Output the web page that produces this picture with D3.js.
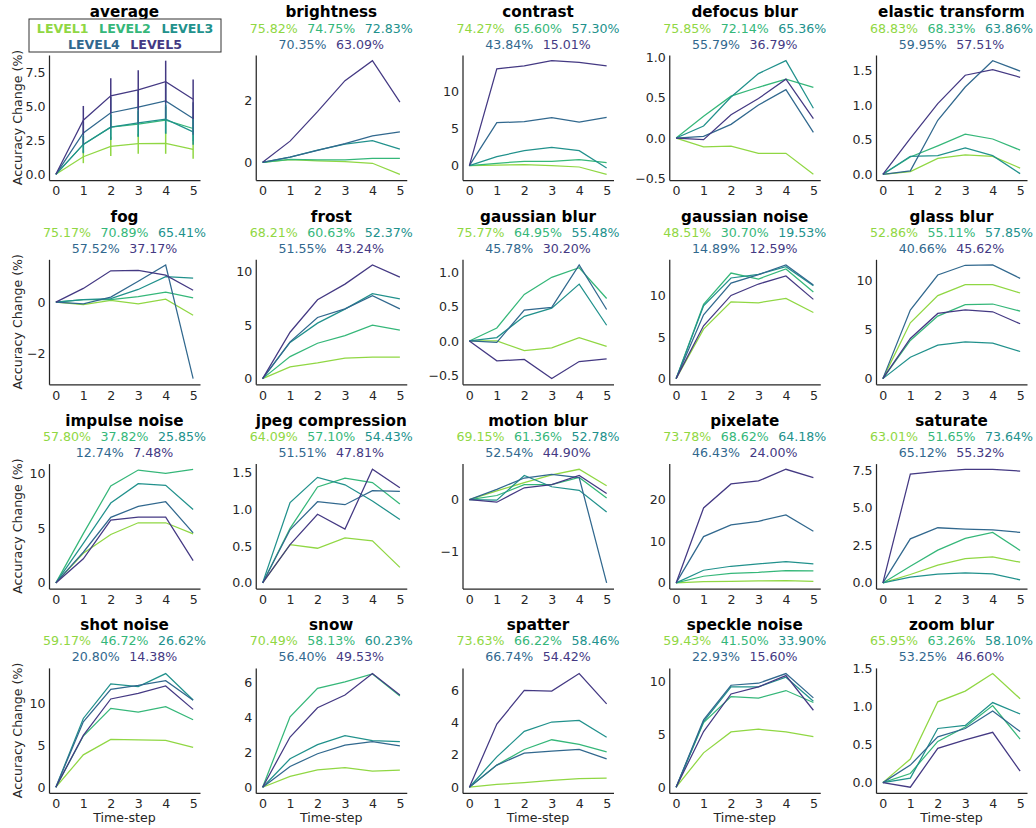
<!DOCTYPE html>
<html><head><meta charset="utf-8">
<script src="https://cdn.jsdelivr.net/npm/d3@7/dist/d3.min.js"></script>
<style>body{margin:0;background:#fff;} text{font-family:"DejaVu Sans",sans-serif;}</style>
</head><body>
<script>
// ---------------- DATA ----------------
const levels = ["LEVEL1","LEVEL2","LEVEL3","LEVEL4","LEVEL5"];
const timeSteps = [0,1,2,3,4,5];
const panelTitles = ["average","brightness","contrast","defocus blur","elastic transform",
  "fog","frost","gaussian blur","gaussian noise","glass blur",
  "impulse noise","jpeg compression","motion blur","pixelate","saturate",
  "shot noise","snow","spatter","speckle noise","zoom blur"];
const baseAccuracy = [null,
  ["75.82%","74.75%","72.83%","70.35%","63.09%"],
  ["74.27%","65.60%","57.30%","43.84%","15.01%"],
  ["75.85%","72.14%","65.36%","55.79%","36.79%"],
  ["68.83%","68.33%","63.86%","59.95%","57.51%"],
  ["75.17%","70.89%","65.41%","57.52%","37.17%"],
  ["68.21%","60.63%","52.37%","51.55%","43.24%"],
  ["75.77%","64.95%","55.48%","45.78%","30.20%"],
  ["48.51%","30.70%","19.53%","14.89%","12.59%"],
  ["52.86%","55.11%","57.85%","40.66%","45.62%"],
  ["57.80%","37.82%","25.85%","12.74%","7.48%"],
  ["64.09%","57.10%","54.43%","51.51%","47.81%"],
  ["69.15%","61.36%","52.78%","52.54%","44.90%"],
  ["73.78%","68.62%","64.18%","46.43%","24.00%"],
  ["63.01%","51.65%","73.64%","65.12%","55.32%"],
  ["59.17%","46.72%","26.62%","20.80%","14.38%"],
  ["70.49%","58.13%","60.23%","56.40%","49.53%"],
  ["73.63%","66.22%","58.46%","66.74%","54.42%"],
  ["59.43%","41.50%","33.90%","22.93%","15.60%"],
  ["65.95%","63.26%","58.10%","53.25%","46.60%"]];

// each: 5 series (LEVEL1..LEVEL5) of accuracy change at time-steps 0..5
const average = [[0,1.29,2.05,2.25,2.28,1.83],[0,2.2,3.47,3.69,3.98,3.37],[0,2.2,3.47,3.79,4.06,3.12],[0,3.04,4.53,4.95,5.40,4.11],[0,3.98,5.77,6.21,6.81,5.52]];
const averageStd = [[0,0.47,0.71,0.74,0.77,0.69],[0,0.6,0.9,0.95,1.0,0.9],[0,0.65,0.95,1.0,1.05,0.95],[0,0.85,1.15,1.25,1.3,1.2],[0,1.05,1.3,1.45,1.55,1.45]];
const brightness = [[0,0.09,0.05,0.02,-0.03,-0.39],[0,0.10,0.08,0.08,0.13,0.13],[0,0.17,0.40,0.59,0.71,0.43],[0,0.17,0.39,0.61,0.86,0.99],[0,0.69,1.65,2.66,3.31,1.96]];
const contrast = [[0,0.09,0.14,0,-0.18,-1.17],[0,0.32,0.59,0.59,0.81,0.41],[0,1.22,2.03,2.48,2.03,-0.32],[0,5.81,5.95,6.49,5.9,6.53],[0,13.1,13.5,14.2,13.96,13.5]];
const defocusBlur = [[0,-0.11,-0.10,-0.19,-0.19,-0.45],[0,0.27,0.52,0.63,0.73,0.63],[0,0.15,0.51,0.80,0.96,0.37],[0,0.02,0.17,0.41,0.60,0.07],[0,-0.02,0.29,0.49,0.73,0.24]];
const elasticTransform = [[0,0.04,0.23,0.28,0.26,0.09],[0,0.25,0.41,0.58,0.51,0.35],[0,0.26,0.27,0.38,0.27,0.01],[0,0.05,0.78,1.26,1.64,1.49],[0,0.52,1.02,1.43,1.51,1.40]];
const fog = [[0,-0.1,0.07,-0.07,0.12,-0.51],[0,0.1,0.1,0.22,0.39,0.17],[0,0.1,0.14,0.5,1.0,0.94],[0,-0.07,0.2,0.82,1.46,-3.0],[0,0.54,1.23,1.25,1.06,0.47]];
const frost = [[0,1.09,1.47,1.91,2.0,2.0],[0,2.06,3.31,4.03,5.0,4.53],[0,3.38,5.19,6.5,7.94,7.47],[0,3.44,5.72,6.53,7.75,6.53],[0,4.34,7.38,8.84,10.63,9.5]];
const gaussianBlur = [[0,0.0,-0.14,-0.10,0.05,-0.08],[0,0.19,0.68,0.93,1.07,0.62],[0,0.05,0.36,0.48,0.83,0.23],[0,-0.02,0.45,0.49,1.11,0.46],[0,-0.29,-0.27,-0.55,-0.30,-0.26]];
const gaussianNoise = [[0,5.97,9.27,9.15,9.68,7.98],[0,8.95,12.74,12.02,13.23,10.44],[0,8.79,12.14,12.58,13.51,11.21],[0,7.7,11.53,12.54,13.71,11.29],[0,6.37,10.04,11.41,12.38,9.56]];
const glassBlur = [[0,5.68,8.44,9.56,9.56,8.71],[0,3.88,6.36,7.52,7.59,6.87],[0,2.18,3.4,3.74,3.6,2.76],[0,6.97,10.54,11.53,11.56,10.2],[0,4.08,6.63,7.0,6.8,5.58]];
const impulseNoise = [[0,2.7,4.42,5.49,5.49,4.48],[0,4.5,8.84,10.3,10.0,10.37],[0,3.6,7.29,9.05,8.9,6.7],[0,2.8,5.98,6.98,7.41,4.57],[0,2.2,5.73,6.0,6.0,2.04]];
const jpegCompression = [[0,0.52,0.47,0.61,0.57,0.21],[0,0.74,1.30,1.42,1.36,1.07],[0,1.09,1.43,1.33,1.11,0.86],[0,0.72,1.10,1.06,1.25,1.24],[0,0.52,0.93,0.73,1.54,1.29]];
const motionBlur = [[0,0.17,0.33,0.48,0.59,0.27],[0,0.08,0.29,0.29,0.43,0.03],[0,-0.01,0.47,0.25,0.18,-0.24],[0,0.2,0.42,0.49,0.43,-1.62],[0,-0.05,0.23,0.29,0.47,0.12]];
const pixelate = [[0,0.32,0.4,0.48,0.56,0.4],[0,1.6,2.32,2.56,2.96,2.88],[0,3.04,4.0,4.56,5.12,4.56],[0,11.12,13.92,14.8,16.32,12.4],[0,18.0,23.76,24.48,27.28,25.28]];
const saturate = [[0,0.56,1.18,1.62,1.73,1.38],[0,1.11,2.18,2.96,3.36,2.16],[0,0.38,0.58,0.67,0.6,0.2],[0,2.93,3.67,3.58,3.53,3.36],[0,7.24,7.42,7.56,7.56,7.44]];
const shotNoise = [[0,3.86,5.7,5.66,5.58,4.74],[0,6.1,9.4,8.96,9.6,8.05],[0,8.2,12.31,11.99,13.55,10.4],[0,7.8,11.67,12.15,12.71,10.36],[0,6.18,10.52,11.2,12.07,9.28]];
const snow = [[0,0.62,1.0,1.13,0.92,0.98],[0,4.04,5.67,6.04,6.5,5.23],[0,1.63,2.44,2.96,2.67,2.62],[0,1.19,1.92,2.42,2.62,2.37],[0,2.88,4.56,5.29,6.52,5.29]];
const spatter = [[0,0.17,0.29,0.43,0.54,0.56],[0,1.37,2.34,2.94,2.65,2.19],[0,1.88,3.46,4.04,4.14,3.1],[0,1.37,2.11,2.24,2.34,1.76],[0,3.91,6.0,5.96,7.04,5.16]];
const speckleNoise = [[0,3.24,5.22,5.47,5.22,4.78],[0,6.1,8.55,8.4,9.12,7.99],[0,6.19,9.47,9.47,10.38,8.11],[0,6.35,9.62,9.81,10.72,8.43],[0,5.25,8.8,9.47,10.53,7.26]];
const zoomBlur = [[0,0.31,1.06,1.20,1.43,1.10],[0,0.12,0.54,0.73,1.01,0.57],[0,0.06,0.71,0.75,1.05,0.9],[0,0.23,0.6,0.71,0.94,0.67],[0,-0.06,0.45,0.56,0.66,0.15]];

const yTicks = [[0,2.5,5,7.5],[0,2],[0,5,10],[-0.5,0,0.5,1],[0,0.5,1,1.5],
  [-2,0],[0,5,10],[-0.5,0,0.5,1],[0,5,10],[0,5,10],
  [0,5,10],[0,0.5,1,1.5],[-1,0],[0,10,20],[0,2.5,5,7.5],
  [0,5,10],[0,2,4,6],[0,2,4,6],[0,5,10],[0,0.5,1,1.5]];

const panelData = [average,brightness,contrast,defocusBlur,elasticTransform,fog,frost,gaussianBlur,gaussianNoise,glassBlur,
  impulseNoise,jpegCompression,motionBlur,pixelate,saturate,shotNoise,snow,spatter,speckleNoise,zoomBlur];

// ---------------- DRAW ----------------
const colors = [5/6,4/6,3/6,2/6,1/6].map(t => d3.interpolateViridis(t));
const W = 1036, H = 828;
const svg = d3.select("body").append("svg").attr("width", W).attr("height", H);
const axW = 151, axH = 125;
const ink = "#262626";
const fs = "12.6px";

panelData.forEach((data, i) => {
  const r = Math.floor(i / 5), c = i % 5;
  const left = 49 + c * 206.75, top = 55 + r * 204.3;
  const g = svg.append("g").attr("transform", `translate(${left},${top})`);
  const x = d3.scaleLinear().domain([-0.25, 5.25]).range([0, axW]);
  let vals = [];
  data.forEach((s, li) => s.forEach((v, k) => {
    if (i === 0) { vals.push(v + averageStd[li][k], v - averageStd[li][k]); } else vals.push(v);
  }));
  const [mn, mx] = d3.extent(vals);
  const pad = (mx - mn) * 0.05;
  const y = d3.scaleLinear().domain([mn - pad, mx + pad]).range([axH, 0]);

  const ticks = yTicks[i];
  const dec = ticks.some(t => !Number.isInteger(t));
  const fmt = dec ? d3.format(".1f") : d3.format("d");

  const ya = g.append("g").call(d3.axisLeft(y).tickValues(ticks).tickFormat(fmt).tickSize(0).tickSizeOuter(0).tickPadding(3.5));
  const xa = g.append("g").attr("transform", `translate(0,${axH})`)
    .call(d3.axisBottom(x).tickValues(timeSteps).tickFormat(d3.format("d")).tickSize(0).tickSizeOuter(0).tickPadding(6.5));
  [ya, xa].forEach(a => {
    a.selectAll("path").attr("stroke", ink).attr("stroke-width", 1.25);
    a.selectAll("line").remove();
    a.selectAll("text").attr("fill", ink).style("font-size", fs).style("font-family", "DejaVu Sans");
  });

  const line = d3.line().x((d, k) => x(timeSteps[k])).y(d => y(d));
  data.forEach((s, li) => {
    if (i === 0) {
      s.forEach((v, k) => {
        const e = averageStd[li][k];
        if (e > 0) g.append("line").attr("x1", x(timeSteps[k])).attr("x2", x(timeSteps[k]))
          .attr("y1", y(v - e)).attr("y2", y(v + e)).attr("stroke", colors[li]).attr("stroke-width", 1.5);
      });
    }
    g.append("path").datum(s).attr("d", line).attr("fill", "none")
      .attr("stroke", colors[li]).attr("stroke-width", 1.25);
  });

  // title
  g.append("text").attr("x", axW / 2).attr("y", -43).attr("dy", "0.36em").attr("text-anchor", "middle")
    .style("font-size", "15.2px").style("font-weight", "bold").attr("fill", "#000").text(panelTitles[i]);

  if (i === 0) {
    // legend
    g.append("rect").attr("x", 29 - 49).attr("y", 19 - 55).attr("width", 192).attr("height", 33)
      .attr("fill", "#fff").attr("stroke", "#333").attr("stroke-width", 1);
    [[0,1,2],[3,4]].forEach((row, ri) => {
      const t = g.append("text").attr("x", axW / 2 + 0.5).attr("y", ri === 0 ? -27 : -10.5).attr("dy", "0.36em")
        .attr("text-anchor", "middle").style("font-size", fs).style("font-weight", "bold");
      row.forEach((li, k) => t.append("tspan").attr("dx", k ? 10.5 : 0).attr("fill", colors[li]).text(levels[li]));
    });
  } else {
    [[0,1,2],[3,4]].forEach((row, ri) => {
      const t = g.append("text").attr("x", axW / 2).attr("y", ri === 0 ? -27 : -11).attr("dy", "0.36em")
        .attr("text-anchor", "middle").style("font-size", fs);
      row.forEach((li, k) => t.append("tspan").attr("dx", k ? 9.5 : 0).attr("fill", colors[li]).text(baseAccuracy[i][li]));
    });
  }

  if (c === 0) {
    svg.append("text").attr("transform", `translate(17,${top + axH / 2}) rotate(-90)`).attr("text-anchor", "middle")
      .attr("dy", "0.36em").style("font-size", fs).attr("fill", ink).text("Accuracy Change (%)");
  }
  if (r === 3) {
    svg.append("text").attr("x", left + axW / 2).attr("y", 817).attr("dy", "0.36em").attr("text-anchor", "middle")
      .style("font-size", fs).attr("fill", ink).text("Time-step");
  }
});
</script>
</body></html>
